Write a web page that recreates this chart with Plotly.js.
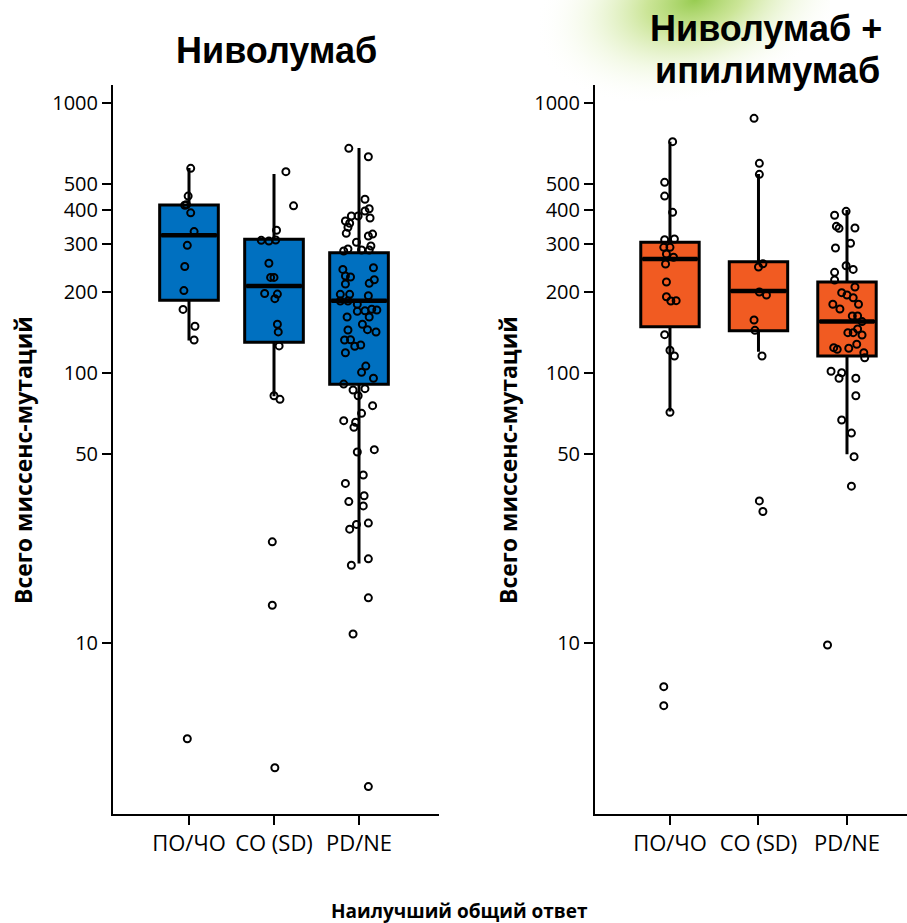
<!DOCTYPE html>
<html>
<head>
<meta charset="utf-8">
<script src="https://cdn.plot.ly/plotly-3.0.1.min.js"></script>
<style>html,body{margin:0;padding:0;background:#fff}</style>
</head>
<body>
<div id="chart" style="width:907px;height:923px"></div>
<script>
// ---- Categories / ticks ----
const categories = ['ПО/ЧО', 'СО (SD)', 'PD/NE'];
const yTickVals = [10, 50, 100, 200, 300, 400, 500, 1000];
const yTickText = ['10', '50', '100', '200', '300', '400', '500', '1000'];

// ---- Nivolumab box statistics ----
const nivoQ1 = [186, 130, 90.8];
const nivoMedian = [324, 210, 185];
const nivoQ3 = [419, 313, 279];
const nivoLower = [132, 82, 19.7];
const nivoUpper = [574, 546, 681];

// ---- Nivolumab + ipilimumab box statistics ----
const comboQ1 = [148.4, 143.4, 115.6];
const comboMedian = [264.4, 201.2, 155];
const comboQ3 = [305, 258.4, 217.3];
const comboLower = [72, 120, 50];
const comboUpper = [719, 546, 401.6];

// ---- Nivolumab individual points (values and horizontal jitter) ----
const nivoPR = [573, 452, 418, 420, 392, 334, 297, 248, 202, 172, 149, 132.5, 4.42];
const nivoPRJit = [0.02, -0.01, -0.05, -0.03, 0.02, 0.06, -0.02, -0.05, -0.06, -0.07, 0.07, 0.06, -0.02];
const nivoSD = [557, 416, 338, 310, 308, 311, 255, 226, 226, 197, 196, 188.5, 151.5, 142, 126, 82.4, 79.9, 23.7, 13.8, 3.45];
const nivoSDJit = [0.14, 0.23, 0.03, -0.15, -0.06, 0.02, -0.06, -0.04, 0.0, -0.11, 0.04, 0.01, 0.04, 0.05, 0.06, 0.0, 0.07, -0.02, -0.02, 0.01];
const nivoPD = [679.5, 632.5, 440, 406, 398, 381.5, 381.5, 375, 365.6, 358.5, 346.5, 329, 327, 321.7, 305, 295.4, 288, 283, 285.5, 285.5,
  242, 245.5, 228.7, 226.8, 213.6, 221.6, 214.9, 195.6, 195.6, 193.3, 184.8, 184.8, 179.7, 169.2, 170.1, 171.1, 172.2, 161.2, 161.2, 151.5,
  144.3, 144.7, 141.9, 132.5, 132.8, 127, 125.6, 118.9, 106.1, 100.6, 95.6, 91.0, 86.5, 87.5, 82.4, 75.7, 70.9, 66.6, 65.7, 62.9,
  51.0, 52.0, 41.9, 39.0, 35.1, 33.4, 32.2, 27.5, 27.8, 26.4, 20.5, 19.4, 14.7, 10.8, 2.94];
const nivoPDJit = [-0.12, 0.11, 0.07, 0.12, 0.07, -0.09, -0.01, 0.13, -0.16, -0.11, -0.13, -0.15, 0.16, 0.11, -0.03, 0.14, -0.13, -0.18, 0.03, 0.12,
  -0.19, 0.17, -0.16, -0.10, -0.16, 0.18, 0.12, -0.22, -0.11, 0.11, -0.22, -0.13, -0.02, -0.02, 0.07, 0.21, 0.15, -0.14, 0.12, 0.04,
  -0.13, 0.10, 0.20, -0.17, -0.10, 0.02, -0.05, -0.16, 0.08, 0.03, 0.17, -0.18, -0.07, 0.07, -0.01, 0.16, 0.03, -0.18, -0.04, -0.06,
  -0.02, 0.18, 0.05, -0.16, 0.06, -0.12, 0.05, -0.03, 0.11, -0.11, 0.11, -0.09, 0.11, -0.07, 0.11];

// ---- Nivolumab + ipilimumab individual points ----
const comboPR = [719, 508.5, 452, 393.6, 311.6, 313.5, 292, 292, 275.9, 268.3, 253.3, 217.3, 191.7, 184.8, 185.3, 138.7, 121.4, 115.6, 71.5, 6.89, 5.86];
const comboPRJit = [0.03, -0.06, -0.06, 0.03, -0.06, 0.05, -0.07, 0.0, -0.04, 0.04, -0.05, -0.04, -0.04, 0.01, 0.07, -0.06, 0.0, 0.05, 0.0, -0.07, -0.07];
const comboSD = [877.7, 597.8, 544.4, 247, 254, 199.5, 194.5, 157.2, 143.9, 115.6, 33.6, 30.7];
const comboSDJit = [-0.05, 0.01, 0.01, 0.0, 0.05, 0.01, 0.09, -0.05, -0.04, 0.04, 0.01, 0.05];
const comboPD = [397, 383.8, 349.4, 343.5, 344.4, 302.3, 290.4, 249.7, 242, 236, 221, 208.2, 198.4, 194.5, 190, 179.7, 179.7, 172.6, 162.6, 162.6,
  155, 145.5, 141.1, 141.1, 138.3, 127.8, 124.1, 122.4, 123.5, 118.9, 113.9, 101.5, 100.2, 95.6, 95.6, 82.4, 67.0, 59.9, 49.0, 38.1, 9.83];
const comboPDJit = [-0.01, -0.14, -0.12, -0.09, 0.09, 0.04, -0.13, -0.01, 0.07, -0.14, -0.14, 0.09, -0.06, 0.0, 0.07, -0.16, 0.13, -0.08, 0.06, 0.12,
  0.17, 0.12, 0.01, 0.07, 0.17, 0.11, -0.15, -0.11, 0.02, 0.19, 0.20, -0.18, -0.06, -0.09, 0.10, 0.10, -0.06, 0.05, 0.08, 0.05, -0.22];

const nivoColor = '#0070C0';
const comboColor = '#F15B22';

function pointsTrace(groups, xa, ya) {
  const xs = [], ys = [];
  groups.forEach(function (g, i) {
    g.vals.forEach(function (v, k) { xs.push(i + g.jit[k]); ys.push(v); });
  });
  return {
    type: 'scatter', mode: 'markers', x: xs, y: ys, xaxis: xa, yaxis: ya,
    marker: { symbol: 'circle-open', size: 7, color: '#000', line: { width: 2, color: '#000' } },
    hoverinfo: 'y', showlegend: false, cliponaxis: false
  };
}

function boxTrace(q1, med, q3, lo, hi, color, w, xa, ya) {
  return {
    type: 'box', x: [0, 1, 2], q1: q1, median: med, q3: q3, lowerfence: lo, upperfence: hi,
    fillcolor: color, line: { color: '#000', width: 3 }, width: w, whiskerwidth: 0,
    boxpoints: false, xaxis: xa, yaxis: ya, showlegend: false, hoverinfo: 'skip'
  };
}

// thicker median bars, drawn from the median arrays and the box width
function medianTrace(med, w, xa, ya) {
  const xs = [], ys = [];
  med.forEach(function (m, i) { xs.push(i - w / 2 + 0.02, i + w / 2 - 0.02, null); ys.push(m, m, null); });
  return { type: 'scatter', mode: 'lines', x: xs, y: ys, xaxis: xa, yaxis: ya,
    line: { color: '#000', width: 4.5 }, hoverinfo: 'skip', showlegend: false };
}

const data = [
  boxTrace(nivoQ1, nivoMedian, nivoQ3, nivoLower, nivoUpper, nivoColor, 0.69, 'x', 'y'),
  boxTrace(comboQ1, comboMedian, comboQ3, comboLower, comboUpper, comboColor, 0.66, 'x2', 'y2'),
  medianTrace(nivoMedian, 0.69, 'x', 'y'),
  medianTrace(comboMedian, 0.66, 'x2', 'y2'),
  pointsTrace([{ vals: nivoPR, jit: nivoPRJit }, { vals: nivoSD, jit: nivoSDJit }, { vals: nivoPD, jit: nivoPDJit }], 'x', 'y'),
  pointsTrace([{ vals: comboPR, jit: comboPRJit }, { vals: comboSD, jit: comboSDJit }, { vals: comboPD, jit: comboPDJit }], 'x2', 'y2')
];

const tickFont = { family: 'Open Sans, sans-serif', size: 20, color: '#000' };
const xTickFont = { family: 'Open Sans, sans-serif', size: 22, color: '#000' };

function yAxis(anchor, domainY) {
  return {
    anchor: anchor, type: 'log', range: [0.3667, 3.0667], domain: domainY,
    tickmode: 'array', tickvals: yTickVals, ticktext: yTickText,
    showgrid: false, zeroline: false, showline: true, linecolor: '#000', linewidth: 2,
    ticks: 'outside', ticklen: 9, tickwidth: 2, tickcolor: '#000', tickfont: tickFont
  };
}
function xAxis(anchor, domainX, range) {
  return {
    anchor: anchor, domain: domainX, range: range,
    tickmode: 'array', tickvals: [0, 1, 2], ticktext: categories, tickangle: 0,
    showgrid: false, zeroline: false, showline: true, linecolor: '#000', linewidth: 2,
    ticks: 'outside', ticklen: 9, tickwidth: 2, tickcolor: '#000', tickfont: xTickFont
  };
}

const yDom = [(923 - 814) / 923, (923 - 85) / 923];

const glowSvg = '<svg xmlns="http://www.w3.org/2000/svg" width="300" height="120" viewBox="0 0 300 120">' +
  '<defs><radialGradient id="g" gradientUnits="userSpaceOnUse" cx="165" cy="0" r="165" gradientTransform="translate(165 0) rotate(-16) scale(1 0.6) translate(-165 0)">' +
  '<stop offset="0" stop-color="#8CC63E" stop-opacity="0.9"/><stop offset="0.3" stop-color="#B5DA6B" stop-opacity="0.7"/>' +
  '<stop offset="0.65" stop-color="#E2F1C2" stop-opacity="0.4"/>' +
  '<stop offset="1" stop-color="#ffffff" stop-opacity="0"/></radialGradient></defs>' +
  '<rect width="300" height="120" fill="url(#g)"/></svg>';

const layout = {
  width: 907, height: 923,
  margin: { l: 0, r: 0, t: 0, b: 0 },
  paper_bgcolor: '#fff', plot_bgcolor: 'rgba(0,0,0,0)',
  showlegend: false,
  xaxis: xAxis('y', [113 / 907, 439 / 907], [-0.894, 2.941]),
  yaxis: yAxis('x', yDom),
  xaxis2: xAxis('y2', [595 / 907, 1], [-0.847, 2.678]),
  yaxis2: yAxis('x2', yDom),
  images: [{
    source: 'data:image/svg+xml;charset=utf-8,' + encodeURIComponent(glowSvg),
    xref: 'paper', yref: 'paper', x: 530 / 907, y: 1, sizex: 300 / 907, sizey: 120 / 923,
    xanchor: 'left', yanchor: 'top', sizing: 'stretch', layer: 'below'
  }],
  annotations: [
    { text: '<b>Ниволумаб</b>', xref: 'paper', yref: 'paper', x: 276 / 907, y: 1 - 50 / 923, xanchor: 'center', yanchor: 'middle', showarrow: false,
      font: { family: 'Liberation Sans, Arial, sans-serif', size: 36, color: '#000' } },
    { text: '<b>Ниволумаб +</b>', xref: 'paper', yref: 'paper', x: 766 / 907, y: 1 - 29 / 923, xanchor: 'center', yanchor: 'middle', showarrow: false,
      font: { family: 'Liberation Sans, Arial, sans-serif', size: 36, color: '#000' } },
    { text: '<b>ипилимумаб</b>', xref: 'paper', yref: 'paper', x: 767 / 907, y: 1 - 70 / 923, xanchor: 'center', yanchor: 'middle', showarrow: false,
      font: { family: 'Liberation Sans, Arial, sans-serif', size: 36, color: '#000' } },
    { text: '<b>Всего миссенс-мутаций</b>', xref: 'paper', yref: 'paper', x: 23 / 907, y: 1 - 460 / 923, xanchor: 'center', yanchor: 'middle', showarrow: false,
      textangle: -90, font: { family: 'Open Sans, sans-serif', size: 23, color: '#000' } },
    { text: '<b>Всего миссенс-мутаций</b>', xref: 'paper', yref: 'paper', x: 508 / 907, y: 1 - 460 / 923, xanchor: 'center', yanchor: 'middle', showarrow: false,
      textangle: -90, font: { family: 'Open Sans, sans-serif', size: 23, color: '#000' } },
    { text: '<b>Наилучший общий ответ</b>', xref: 'paper', yref: 'paper', x: 460 / 907, y: 1 - 911 / 923, xanchor: 'center', yanchor: 'middle', showarrow: false,
      font: { family: 'Open Sans, sans-serif', size: 19, color: '#000' } }
  ]
};

Plotly.newPlot('chart', data, layout, { displayModeBar: false, staticPlot: true });
</script>
</body>
</html>
